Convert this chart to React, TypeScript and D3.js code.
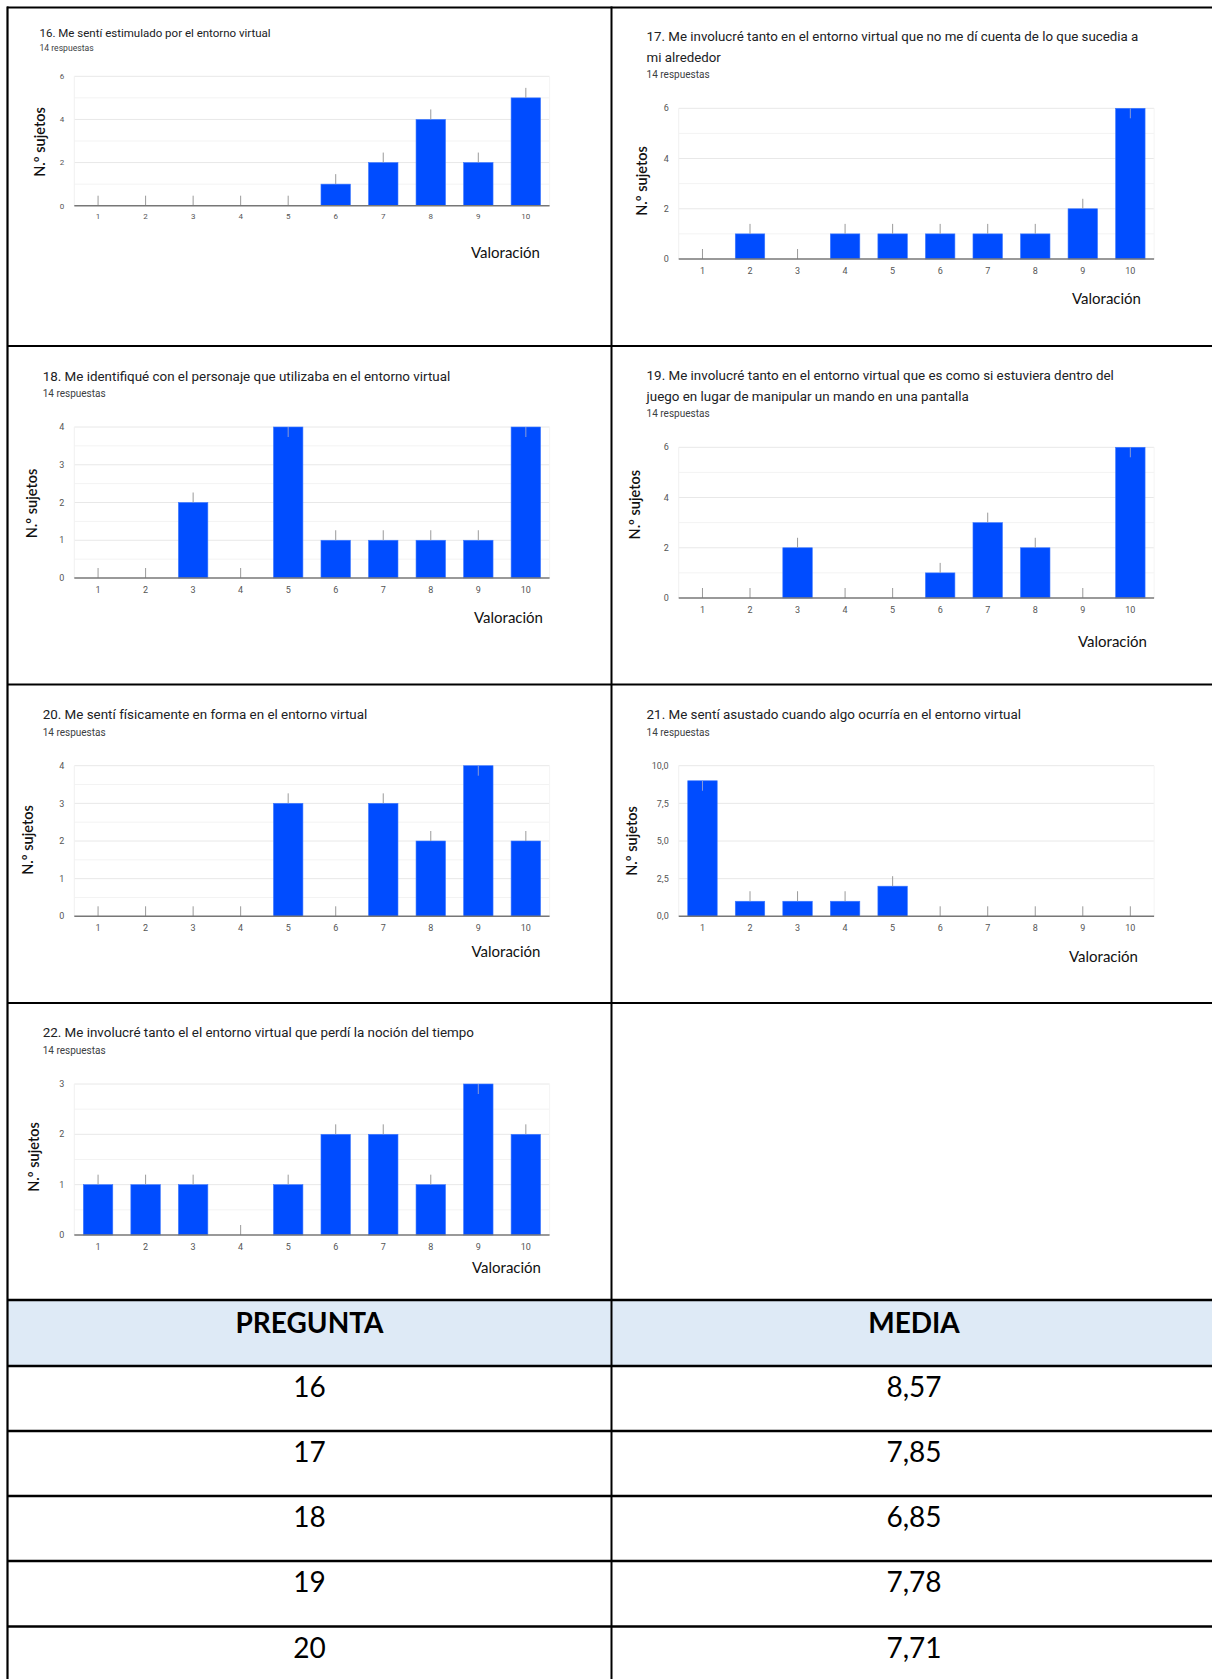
import React, { useEffect } from 'react';
import * as d3 from 'd3';

// ---------- DATA ----------
const ratings = ['1', '2', '3', '4', '5', '6', '7', '8', '9', '10'];

const q16Counts = [0, 0, 0, 0, 0, 1, 2, 4, 2, 5];
const q17Counts = [0, 1, 0, 1, 1, 1, 1, 1, 2, 6];
const q18Counts = [0, 0, 2, 0, 4, 1, 1, 1, 1, 4];
const q19Counts = [0, 0, 2, 0, 0, 1, 3, 2, 0, 6];
const q20Counts = [0, 0, 0, 0, 3, 0, 3, 2, 4, 2];
const q21Counts = [9, 1, 1, 1, 2, 0, 0, 0, 0, 0];
const q22Counts = [1, 1, 1, 0, 1, 2, 2, 1, 3, 2];

const ticks0to6 = [0, 2, 4, 6];
const ticks0to4 = [0, 1, 2, 3, 4];
const ticks0to10 = [0, 2.5, 5, 7.5, 10];
const ticks0to3 = [0, 1, 2, 3];

const q16Title = ['16. Me sentí estimulado por el entorno virtual'];
const q17Title = [
  '17. Me involucré tanto en el entorno virtual que no me dí cuenta de lo que sucedia a',
  'mi alrededor',
];
const q18Title = ['18. Me identifiqué con el personaje que utilizaba en el entorno virtual'];
const q19Title = [
  '19. Me involucré tanto en el entorno virtual que es como si estuviera dentro del',
  'juego en lugar de manipular un mando en una pantalla',
];
const q20Title = ['20. Me sentí físicamente en forma en el entorno virtual'];
const q21Title = ['21. Me sentí asustado cuando algo ocurría en el entorno virtual'];
const q22Title = ['22. Me involucré tanto el el entorno virtual que perdí la noción del tiempo'];

const responsesLabel = '14 respuestas';
const yAxisLabel = 'N.º sujetos';
const xAxisLabel = 'Valoración';

const tableHeaders = ['PREGUNTA', 'MEDIA'];
const tableQuestions = ['16', '17', '18', '19', '20'];
const tableMeans = ['8,57', '7,85', '6,85', '7,78', '7,71'];

// ---------- LAYOUT ----------
type Layout = {
  tx: number; ty: number[]; ts: number; ry: number; rs: number;
  l: number; r: number; t: number; b: number;
  ylx: number; yly: number; xlb: number; vx: number; vy: number; tk: number;
};

const charts: { title: string[]; counts: number[]; ticks: number[]; fmt: (v: number) => string; minor: boolean; lay: Layout }[] = [
  { title: q16Title, counts: q16Counts, ticks: ticks0to6, fmt: (v) => String(v), minor: true,
    lay: { tx: 39.5, ty: [36.7], ts: 11.5, ry: 50.7, rs: 8.6, l: 74.3, r: 549.6, t: 76.3, b: 205.7, ylx: 39.5, yly: 142, xlb: 219, vx: 540, vy: 258, tk: 8 } },
  { title: q17Title, counts: q17Counts, ticks: ticks0to6, fmt: (v) => String(v), minor: true,
    lay: { tx: 646.6, ty: [40.7, 61.7], ts: 13.3, ry: 78.3, rs: 10, l: 678.7, r: 1154.1, t: 108.3, b: 259, ylx: 641.6, yly: 181, xlb: 274, vx: 1141, vy: 304, tk: 9 } },
  { title: q18Title, counts: q18Counts, ticks: ticks0to4, fmt: (v) => String(v), minor: true,
    lay: { tx: 42.7, ty: [380.5], ts: 13.4, ry: 397.3, rs: 10, l: 74.3, r: 549.6, t: 427, b: 578, ylx: 32.4, yly: 503.5, xlb: 592.5, vx: 543, vy: 622.7, tk: 9 } },
  { title: q19Title, counts: q19Counts, ticks: ticks0to6, fmt: (v) => String(v), minor: true,
    lay: { tx: 646.6, ty: [380, 400.7], ts: 13.4, ry: 417.3, rs: 10, l: 678.7, r: 1154.1, t: 447.3, b: 598, ylx: 635, yly: 504.7, xlb: 612.5, vx: 1147, vy: 646.7, tk: 9 } },
  { title: q20Title, counts: q20Counts, ticks: ticks0to4, fmt: (v) => String(v), minor: true,
    lay: { tx: 42.7, ty: [719], ts: 13.4, ry: 736, rs: 10, l: 74.3, r: 549.6, t: 765.7, b: 916.3, ylx: 27.7, yly: 840, xlb: 931, vx: 540.5, vy: 956.7, tk: 9 } },
  { title: q21Title, counts: q21Counts, ticks: ticks0to10, fmt: (v) => v.toFixed(1).replace('.', ','), minor: false,
    lay: { tx: 646.6, ty: [719], ts: 13.4, ry: 736, rs: 10, l: 678.7, r: 1154.1, t: 765.7, b: 916.3, ylx: 631.5, yly: 841, xlb: 931, vx: 1138, vy: 961.7, tk: 9 } },
  { title: q22Title, counts: q22Counts, ticks: ticks0to3, fmt: (v) => String(v), minor: true,
    lay: { tx: 42.7, ty: [1037.3], ts: 13.4, ry: 1054.3, rs: 10, l: 74.3, r: 549.6, t: 1084, b: 1235, ylx: 34.4, yly: 1157, xlb: 1250, vx: 541, vy: 1273, tk: 9 } },
];

const W = 1212;
const H = 1679;
const BLUE = '#004cff';
const GF = 'Roboto, "Noto Sans", sans-serif';
const WORD = 'Lato, "Open Sans", sans-serif';

function BarChart({ title, counts, ticks, fmt, minor, lay }: typeof charts[number]) {
  const x = d3.scaleBand<string>().domain(ratings).range([lay.l, lay.r]).paddingInner(0.38).paddingOuter(0.19);
  const maxV = d3.max(ticks) as number;
  const y = d3.scaleLinear().domain([0, maxV]).range([lay.b, lay.t]);
  const minorTicks: number[] = [];
  if (minor) {
    for (let i = 0; i < ticks.length - 1; i++) minorTicks.push((ticks[i] + ticks[i + 1]) / 2);
  }
  const stem = 10;
  return (
    <g>
      {title.map((line, i) => (
        <text key={i} x={lay.tx} y={lay.ty[i]} fontFamily={GF} fontSize={lay.ts} fill="#202124">{line}</text>
      ))}
      <text x={lay.tx} y={lay.ry} fontFamily={GF} fontSize={lay.rs} fill="#3c4043">{responsesLabel}</text>
      {minorTicks.map((v) => (
        <line key={'m' + v} x1={lay.l} x2={lay.r} y1={y(v)} y2={y(v)} stroke="#f3f3f3" strokeWidth={1} />
      ))}
      {ticks.filter((v) => v > 0).map((v) => (
        <line key={'g' + v} x1={lay.l} x2={lay.r} y1={y(v)} y2={y(v)} stroke="#e8e8e8" strokeWidth={1} />
      ))}
      <line x1={lay.l} x2={lay.l} y1={lay.t} y2={lay.b} stroke="#f0f0f0" strokeWidth={1} />
      <line x1={lay.r} x2={lay.r} y1={lay.t} y2={lay.b} stroke="#f4f4f4" strokeWidth={1} />
      {ticks.map((v) => (
        <text key={'t' + v} x={lay.l - 10} y={y(v)} dy="0.35em" textAnchor="end" fontFamily={GF} fontSize={lay.tk} fill="#555">{fmt(v)}</text>
      ))}
      {ratings.map((c, i) => {
        const v = counts[i];
        const bx = x(c) as number;
        const cx = bx + x.bandwidth() / 2;
        const top = y(v);
        const down = top - lay.t < 18;
        return (
          <g key={c}>
            {v > 0 && <rect x={bx} y={top} width={x.bandwidth()} height={lay.b - top} fill={BLUE} stroke="#3d78ff" strokeWidth={0.6} />}
            <line x1={cx} x2={cx} y1={top} y2={down ? top + stem : top - stem} stroke={down ? '#8a9bd6' : '#9a9a9a'} strokeWidth={1} />
            <text x={cx} y={lay.xlb} textAnchor="middle" fontFamily={GF} fontSize={lay.tk} fill="#555">{c}</text>
          </g>
        );
      })}
      <line x1={lay.l} x2={lay.r} y1={lay.b} y2={lay.b} stroke="#777" strokeWidth={1.5} />
      <text transform={`translate(${lay.ylx},${lay.yly}) rotate(-90)`} textAnchor="middle" dy="0.35em" fontFamily={WORD} fontSize={14.5} fontWeight={600} fill="#111">{yAxisLabel}</text>
      <text x={lay.vx} y={lay.vy} textAnchor="end" fontFamily={WORD} fontSize={15} fill="#111">{xAxisLabel}</text>
    </g>
  );
}

export default function App() {
  useEffect(() => {
    document.body.style.margin = '0';
  }, []);

  const rowLines = [346, 684.5, 1003, 1300, 1366, 1431, 1496, 1561, 1626.5];
  const rowTops = [1366, 1431, 1496, 1561, 1626.5];
  const colCenters = [309.5, 914];

  return (
    <svg width={W} height={H} viewBox={`0 0 ${W} ${H}`} style={{ position: 'absolute', left: 0, top: 0, background: '#fff' }}>
      <rect x={0} y={0} width={W} height={H} fill="#fff" />
      <rect x={8} y={1300} width={W - 8} height={66} fill="#deeaf6" />
      {charts.map((c, i) => <BarChart key={i} {...c} />)}
      {/* borders */}
      <line x1={7} x2={W} y1={7.5} y2={7.5} stroke="#000" strokeWidth={2} />
      <line x1={7.5} x2={7.5} y1={6.5} y2={H} stroke="#000" strokeWidth={2.2} />
      <line x1={611.5} x2={611.5} y1={6.5} y2={H} stroke="#000" strokeWidth={2} />
      {rowLines.map((yy) => (
        <line key={yy} x1={7} x2={W} y1={yy} y2={yy} stroke="#000" strokeWidth={yy >= 1300 ? 2.4 : 2} />
      ))}
      {/* table */}
      {tableHeaders.map((h, i) => (
        <text key={h} x={colCenters[i]} y={1332.7} textAnchor="middle" fontFamily={WORD} fontSize={28} fontWeight={700} fill="#000">{h}</text>
      ))}
      {tableQuestions.map((q, i) => (
        <g key={q}>
          <text x={colCenters[0]} y={rowTops[i] + 31.3} textAnchor="middle" fontFamily={WORD} fontSize={28} fill="#000">{q}</text>
          <text x={colCenters[1]} y={rowTops[i] + 31.3} textAnchor="middle" fontFamily={WORD} fontSize={28} fill="#000">{tableMeans[i]}</text>
        </g>
      ))}
    </svg>
  );
}
